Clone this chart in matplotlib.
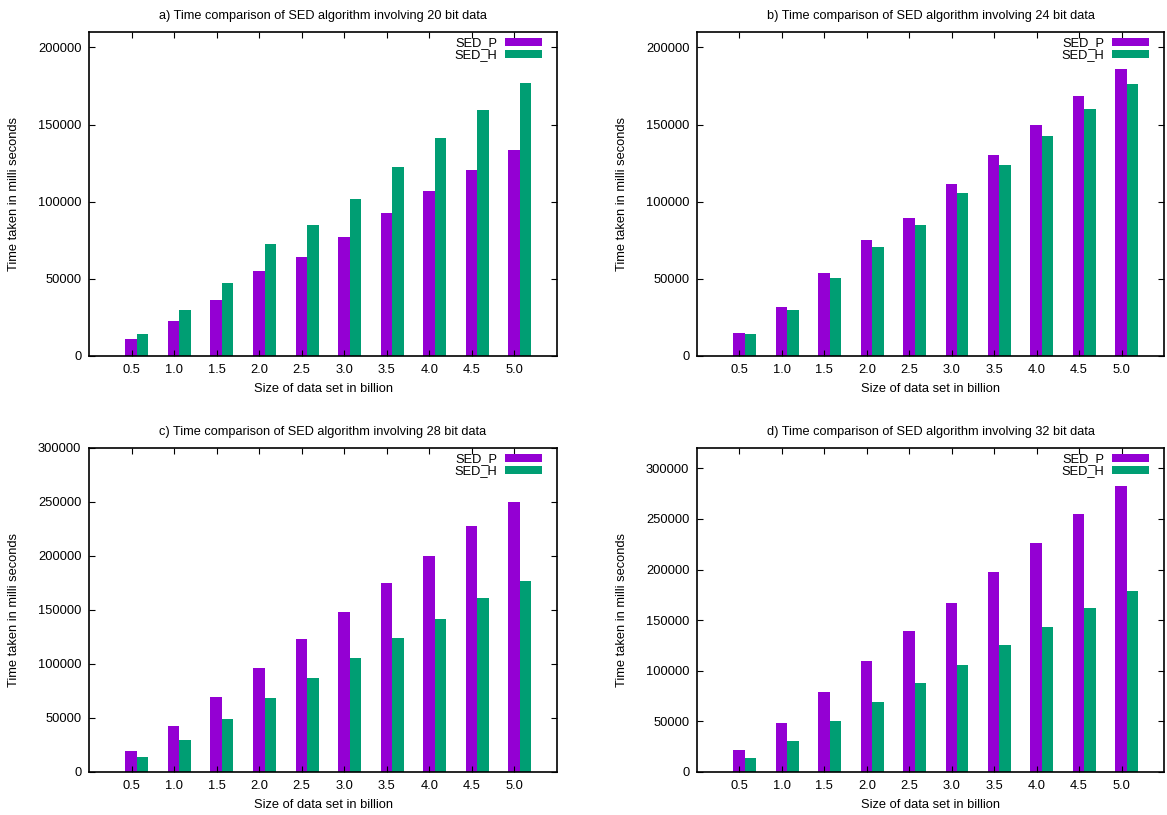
import matplotlib
matplotlib.use("Agg")
import matplotlib.pyplot as plt
import numpy as np
from matplotlib.patches import Patch

plt.rcParams["font.family"] = ["Liberation Sans", "DejaVu Sans"]
plt.rcParams["font.size"] = 9.3

sizes = ["0.5", "1.0", "1.5", "2.0", "2.5", "3.0", "3.5", "4.0", "4.5", "5.0"]

# SED_P / SED_H timings (milli seconds) per panel
p20 = [10800, 22500, 36000, 54900, 64400, 77300, 92900, 106700, 120300, 133700]
h20 = [14000, 29600, 47500, 72600, 84900, 101900, 122500, 141000, 159200, 176900]
p24 = [14700, 31500, 53800, 74900, 89600, 111400, 130400, 149900, 168500, 185700]
h24 = [14000, 29800, 50800, 70800, 84900, 105800, 123800, 142300, 159800, 176200]
p28 = [19800, 42400, 69300, 96200, 123100, 148100, 175000, 199800, 227600, 250200]
h28 = [13600, 30000, 49200, 68400, 87500, 105200, 123700, 141300, 161100, 177200]
p32 = [22100, 48500, 79400, 109500, 138800, 166800, 197500, 225800, 255200, 282900]
h32 = [14200, 31000, 50800, 69600, 87700, 105500, 125300, 143100, 161500, 178700]

bits = [20, 24, 28, 32]
letters = ["a", "b", "c", "d"]
y_max = [210000, 210000, 300000, 320000]

PURPLE = "#9400d3"
GREEN = "#009e73"

fig = plt.figure(figsize=(11.67, 8.15), dpi=100)
W, H = 1167.0, 815.0
# axes frames in pixels: (left, top, right, bottom)
frames = [(89, 32, 557, 356), (697, 32, 1164, 356), (89, 448, 557, 772), (697, 448, 1164, 772)]

x = np.arange(len(sizes))
bw = 0.27
for k, (P, Hh) in enumerate([(p20, h20), (p24, h24), (p28, h28), (p32, h32)]):
    l, t, r, b = frames[k]
    ax = fig.add_axes([l / W, 1 - b / H, (r - l) / W, (b - t) / H])
    ax.bar(x - 0.01, P, width=bw, color=PURPLE, linewidth=0)
    ax.bar(x - 0.01 + bw, Hh, width=bw, color=GREEN, linewidth=0)
    ax.set_xlim(-1, 10)
    ax.set_ylim(0, y_max[k])
    ax.set_xticks(x)
    ax.set_xticklabels(sizes)
    ax.yaxis.set_major_locator(matplotlib.ticker.MultipleLocator(50000))
    ax.tick_params(direction="in", top=True, right=True, length=4, width=0.8, pad=5.5)
    for s in ax.spines.values():
        s.set_linewidth(1.2)
    ax.set_title(f"{letters[k]}) Time comparison of SED algorithm involving {bits[k]} bit data",
                 fontsize=9.2, pad=9)
    ax.set_xlabel("Size of data set in billion", labelpad=5)
    ax.set_ylabel("Time taken in milli seconds")
    ax.yaxis.set_label_coords(-69 / (r - l), 0.5)
    handles = [Patch(color=PURPLE, linewidth=0), Patch(color=GREEN, linewidth=0)]
    ax.legend(handles, ["SED_P", "SED_H"], loc="upper right", frameon=False,
              markerfirst=False, bbox_to_anchor=(1 - 9 / (r - l), 1 + 1 / (b - t)),
              borderpad=0, labelspacing=0.0, handlelength=2.8, handleheight=0.55,
              handletextpad=0.6)

fig.savefig("out.png", dpi=100)
